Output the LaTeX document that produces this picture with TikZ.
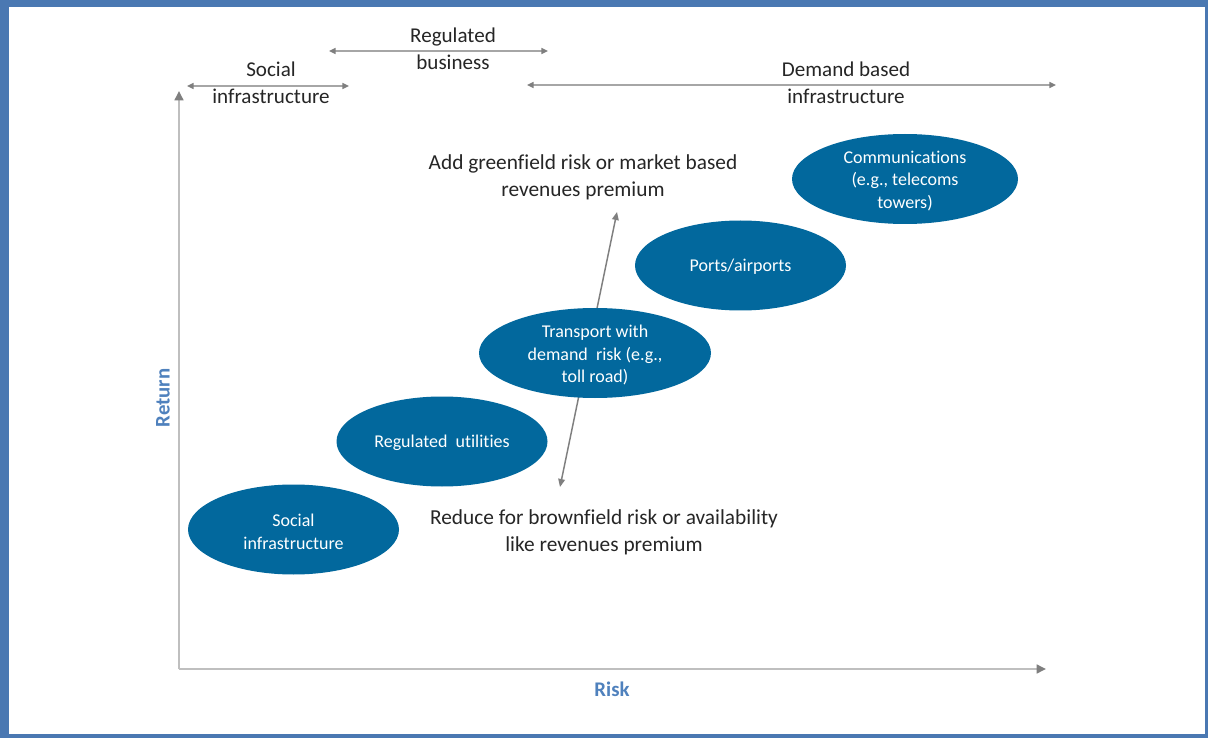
\documentclass[tikz,border=0pt]{standalone}
\usepackage{fontspec}
\setmainfont{Carlito}[Ligatures=NoCommon]
\usetikzlibrary{arrows.meta,shapes.geometric}
\definecolor{framec}{HTML}{4A78B2}
\definecolor{blobc}{HTML}{02689D}
\definecolor{axisc}{HTML}{BFBFBF}
\definecolor{tipc}{HTML}{7F7F7F}
\definecolor{spanc}{HTML}{A6A6A6}
\definecolor{axlabc}{HTML}{4F81BD}
\definecolor{txtc}{HTML}{262626}
\tikzset{
  blob/.style={ellipse, fill=blobc, draw=none, inner sep=0pt},
  blobtext/.style={text=white, align=center, inner sep=0pt,
    font=\fontsize{13.5}{17}\selectfont},
  toplabel/.style={text=txtc, align=center, inner sep=0pt,
    font=\fontsize{15.8}{20.2}\selectfont},
  midlabel/.style={text=txtc, align=center, inner sep=0pt,
    font=\fontsize{16}{20.2}\selectfont},
  axisline/.style={draw=axisc, line width=2.2pt,
    -{Triangle[length=7pt,width=6.5pt,color=tipc]}},
  spanline/.style={draw=spanc, line width=1.1pt,
    {Triangle[length=5pt,width=4.5pt,color=tipc]}-{Triangle[length=5pt,width=4.5pt,color=tipc]}},
  shiftline/.style={draw=tipc, line width=1.1pt,
    {Triangle[length=6pt,width=5pt]}-{Triangle[length=6pt,width=5pt]}},
  axlab/.style={text=axlabc, inner sep=0pt, font=\fontsize{15.6}{18}\selectfont\bfseries}
}
\begin{document}
\begin{tikzpicture}[x=0.75pt,y=-0.75pt]
% page and frame
\useasboundingbox (0,0) rectangle (1208,738);
\fill[framec] (0,0) rectangle (1208,738);
\fill[white] (9,7) rectangle (1205,734);

% axes
\coordinate (origin) at (179,669);
\coordinate (ytop) at (179,91);
\coordinate (xend) at (1046,669);
\draw[axisline] (origin) -- (ytop);
\draw[axisline] (origin) -- (xend);
\node[axlab, rotate=90] (ret) at (163,398) {Return};
\node[axlab] (rsk) at (612,689) {Risk};

% segment spans along the top
\coordinate (socL) at (187,86);
\coordinate (socR) at (349,86);
\coordinate (regL) at (329,51);
\coordinate (regR) at (548,51);
\coordinate (demL) at (527,85);
\coordinate (demR) at (1056,85);
\draw[spanline] (socL) -- (socR);
\draw[spanline] (regL) -- (regR);
\draw[spanline] (demL) -- (demR);
\node[toplabel] (socT) at (271,82.5) {Social\\infrastructure};
\node[toplabel] (regT) at (453,49) {Regulated\\business};
\node[toplabel] (demT) at (846,82.5) {Demand based\\infrastructure};

% premium shift arrow
\coordinate (shUp) at (617,212);
\coordinate (shDn) at (560,487);
\draw[shiftline] (shDn) -- (shUp);
\node[midlabel] (green) at (583,177) {Add greenfield risk or market based\\revenues premium};
\node[midlabel] (brown) at (604,532) {Reduce for brownfield risk or availability\\like revenues premium};

% asset classes
\node[blob, minimum width=158.25pt, minimum height=67.5pt] (social) at (293.5,529.5) {};
\node[blob, minimum width=158.25pt, minimum height=67.5pt] (utils) at (442,441.5) {};
\node[blob, minimum width=174pt, minimum height=67.5pt] (transport) at (595,353) {};
\node[blob, minimum width=158.25pt, minimum height=67.5pt] (ports) at (740.5,265.5) {};
\node[blob, minimum width=169.5pt, minimum height=67.5pt] (comms) at (905,179) {};
\node[blobtext] at ([yshift=-1.5pt]social) {Social\\infrastructure};
\node[blobtext] at ([yshift=-1pt]utils) {Regulated\ \ utilities};
\node[blobtext] at ([yshift=-1.5pt]transport) {Transport with\\demand\ \ risk (e.g.,\\toll road)};
\node[blobtext] at ([yshift=-1pt]ports) {Ports/airports};
\node[blobtext] at ([yshift=-1.5pt]comms) {Communications\\(e.g., telecoms\\towers)};
\end{tikzpicture}
\end{document}
